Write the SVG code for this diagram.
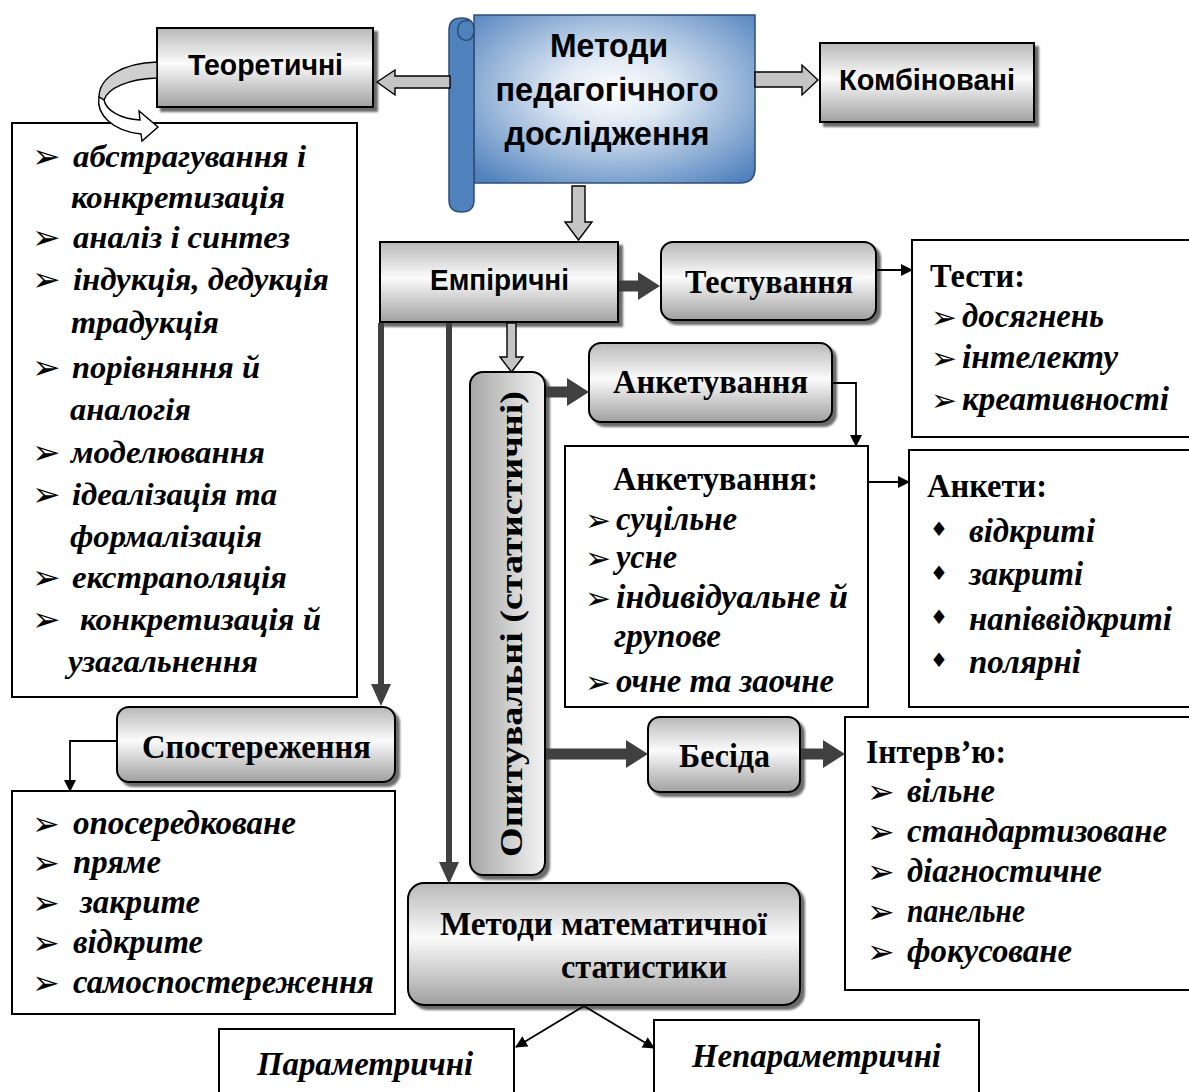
<svg xmlns="http://www.w3.org/2000/svg" width="1189" height="1092" viewBox="0 0 1189 1092">
<defs>
<style>
.box{fill:#fff;stroke:#000;stroke-width:2}
.gbox{fill:url(#gv);stroke:#000;stroke-width:2;filter:url(#sh)}
.sans{font-family:"Liberation Sans","DejaVu Sans",sans-serif;font-weight:bold;fill:#000}
.ser{font-family:"Liberation Serif","DejaVu Serif",serif;font-weight:bold;fill:#000}
.it{font-style:italic}
.bul{font-family:"DejaVu Sans",sans-serif;fill:#000}
.thin{stroke:#000;stroke-width:1.8;fill:none;marker-end:url(#ab)}
.thick{stroke:#404040;stroke-width:11;fill:none;marker-end:url(#ad)}
.vline{stroke:#404040;stroke-width:6;fill:none;marker-end:url(#av)}
.hollow{fill:#c4c4c4;stroke:#000;stroke-width:1.4}
</style>
<linearGradient id="gv" x1="0" y1="0" x2="0" y2="1">
<stop offset="0" stop-color="#b8b8b8"/>
<stop offset="0.45" stop-color="#fbfbfb"/>
<stop offset="1" stop-color="#a0a0a0"/>
</linearGradient>
<linearGradient id="gh" x1="0" y1="0" x2="1" y2="0">
<stop offset="0" stop-color="#a6a6a6"/>
<stop offset="1" stop-color="#f4f4f4"/>
</linearGradient>
<radialGradient id="gs" cx="0.5" cy="0.45" r="0.7">
<stop offset="0" stop-color="#ffffff"/>
<stop offset="0.3" stop-color="#dde7f3"/>
<stop offset="1" stop-color="#4f81bd"/>
</radialGradient>
<filter id="sh" x="-5%" y="-5%" width="115%" height="125%">
<feDropShadow dx="4" dy="4" stdDeviation="1.2" flood-color="#3a3a3a" flood-opacity="0.75"/>
</filter>
<marker id="ab" markerUnits="userSpaceOnUse" markerWidth="12" markerHeight="12" refX="11" refY="6" orient="auto">
<path d="M0,0 L12,6 L0,12 Z" fill="#000"/>
</marker>
<marker id="ad" markerUnits="userSpaceOnUse" markerWidth="22" markerHeight="28" refX="0" refY="14" orient="auto">
<path d="M0,0 L22,14 L0,28 Z" fill="#404040"/>
</marker>
<marker id="av" markerUnits="userSpaceOnUse" markerWidth="22" markerHeight="20" refX="0" refY="10" orient="auto">
<path d="M0,0 L22,10 L0,20 Z" fill="#404040"/>
</marker>
</defs>
<rect width="1189" height="1092" fill="#fff"/>

<g id="node-scroll">
<path d="M474,15 L755,15 L755,168 Q755,183 740,183 L474,183 Z" fill="url(#gs)" stroke="#2c4d75" stroke-width="1.5"/>
<path d="M449,30 Q449,18 461.5,18 Q474,18 474,30 L474,200 Q474,212 461.5,212 Q449,212 449,200 Z" fill="#4f81bd" stroke="#2c4d75" stroke-width="1.5"/>
<path d="M474,32 Q472,42 464,40 Q456,37 458,27 Q461,19 469,21" fill="none" stroke="#2c4d75" stroke-width="1.5"/>
<text class="sans" x="609" y="57" font-size="34" text-anchor="middle" textLength="118" lengthAdjust="spacingAndGlyphs">Методи</text>
<text class="sans" x="607" y="101" font-size="34" text-anchor="middle" textLength="223" lengthAdjust="spacingAndGlyphs">педагогічного</text>
<text class="sans" x="607" y="145" font-size="34" text-anchor="middle" textLength="205" lengthAdjust="spacingAndGlyphs">дослідження</text>
</g>

<g id="node-teoretychni">
<rect class="gbox" x="157" y="28" width="216" height="79"/>
<text class="sans" x="188" y="75" font-size="30" textLength="155" lengthAdjust="spacingAndGlyphs">Теоретичні</text>
</g>

<g id="node-kombinovani">
<rect class="gbox" x="820" y="43" width="214" height="79"/>
<text class="sans" x="839" y="90" font-size="30" textLength="176" lengthAdjust="spacingAndGlyphs">Комбіновані</text>
</g>

<g id="node-teor-list">
<rect class="box" x="12" y="123" width="345" height="574"/>
<g class="bul" font-size="34">
<text x="32" y="168">➢</text>
<text x="32" y="249">➢</text>
<text x="32" y="291">➢</text>
<text x="32" y="379">➢</text>
<text x="32" y="464">➢</text>
<text x="32" y="506">➢</text>
<text x="32" y="589">➢</text>
<text x="32" y="631">➢</text>
</g>
<g class="ser it" font-size="32">
<text x="73" y="167" textLength="233" lengthAdjust="spacingAndGlyphs">абстрагування і</text>
<text x="71" y="208" textLength="214" lengthAdjust="spacingAndGlyphs">конкретизація</text>
<text x="73" y="248" textLength="217" lengthAdjust="spacingAndGlyphs">аналіз і синтез</text>
<text x="73" y="290" textLength="256" lengthAdjust="spacingAndGlyphs">індукція, дедукція</text>
<text x="71" y="333" textLength="148" lengthAdjust="spacingAndGlyphs">традукція</text>
<text x="72" y="378" textLength="188" lengthAdjust="spacingAndGlyphs">порівняння й</text>
<text x="70" y="420" textLength="121" lengthAdjust="spacingAndGlyphs">аналогія</text>
<text x="71" y="463" textLength="194" lengthAdjust="spacingAndGlyphs">моделювання</text>
<text x="72" y="505" textLength="205" lengthAdjust="spacingAndGlyphs">ідеалізація та</text>
<text x="70" y="547" textLength="192" lengthAdjust="spacingAndGlyphs">формалізація</text>
<text x="72" y="588" textLength="215" lengthAdjust="spacingAndGlyphs">екстраполяція</text>
<text x="80" y="630" textLength="241" lengthAdjust="spacingAndGlyphs">конкретизація й</text>
<text x="68" y="672" textLength="190" lengthAdjust="spacingAndGlyphs">узагальнення</text>
</g>
</g>

<g id="node-empirychni">
<rect class="gbox" x="380" y="242" width="238" height="80"/>
<text class="sans" x="430" y="290" font-size="30" textLength="139" lengthAdjust="spacingAndGlyphs">Емпіричні</text>
</g>

<g id="node-testuvannia">
<rect class="gbox" x="661" y="242" width="215" height="78" rx="12"/>
<text class="ser" x="685" y="293" font-size="34" textLength="168" lengthAdjust="spacingAndGlyphs">Тестування</text>
</g>

<g id="node-testy">
<rect class="box" x="912" y="240" width="290" height="197"/>
<text class="ser" x="930" y="287" font-size="34" textLength="95" lengthAdjust="spacingAndGlyphs">Тести:</text>
<g class="bul" font-size="31">
<text x="931" y="328">➢</text>
<text x="931" y="369">➢</text>
<text x="931" y="411">➢</text>
</g>
<g class="ser it" font-size="34">
<text x="962" y="327" textLength="142" lengthAdjust="spacingAndGlyphs">досягнень</text>
<text x="962" y="368" textLength="156" lengthAdjust="spacingAndGlyphs">інтелекту</text>
<text x="962" y="410" textLength="207" lengthAdjust="spacingAndGlyphs">креативності</text>
</g>
</g>

<g id="node-opytuvalni">
<rect x="470" y="372" width="75" height="503" rx="13" fill="url(#gh)" stroke="#000" stroke-width="2" filter="url(#sh)"/>
<text class="ser" transform="translate(522,624) rotate(-90)" x="0" y="0" font-size="32" text-anchor="middle" textLength="466" lengthAdjust="spacingAndGlyphs">Опитувальні (статистичні)</text>
</g>

<g id="node-anketuvannia">
<rect class="gbox" x="589" y="343" width="243" height="79" rx="12"/>
<text class="ser" x="613" y="393" font-size="34" textLength="195" lengthAdjust="spacingAndGlyphs">Анкетування</text>
</g>

<g id="node-anketuvannia-list">
<rect class="box" x="565" y="446" width="303" height="261"/>
<text class="ser" x="613" y="490" font-size="33" textLength="205" lengthAdjust="spacingAndGlyphs">Анкетування:</text>
<g class="bul" font-size="31">
<text x="585" y="531">➢</text>
<text x="585" y="569">➢</text>
<text x="585" y="609">➢</text>
<text x="585" y="693">➢</text>
</g>
<g class="ser it" font-size="33">
<text x="616" y="530" textLength="121" lengthAdjust="spacingAndGlyphs">суцільне</text>
<text x="616" y="568" textLength="61" lengthAdjust="spacingAndGlyphs">усне</text>
<text x="616" y="608" textLength="232" lengthAdjust="spacingAndGlyphs">індивідуальне  й</text>
<text x="614" y="647" textLength="107" lengthAdjust="spacingAndGlyphs">групове</text>
<text x="616" y="692" textLength="218" lengthAdjust="spacingAndGlyphs">очне та заочне</text>
</g>
</g>

<g id="node-ankety">
<rect class="box" x="909" y="450" width="293" height="257"/>
<text class="ser" x="927" y="497" font-size="33" textLength="120" lengthAdjust="spacingAndGlyphs">Анкети:</text>
<g class="bul" font-size="20">
<text x="930" y="536">♦</text>
<text x="930" y="580">♦</text>
<text x="930" y="624">♦</text>
<text x="930" y="667">♦</text>
</g>
<g class="ser it" font-size="33">
<text x="969" y="542" textLength="126" lengthAdjust="spacingAndGlyphs">відкриті</text>
<text x="969" y="585" textLength="114" lengthAdjust="spacingAndGlyphs">закриті</text>
<text x="969" y="630" textLength="203" lengthAdjust="spacingAndGlyphs">напіввідкриті</text>
<text x="969" y="673" textLength="112" lengthAdjust="spacingAndGlyphs">полярні</text>
</g>
</g>

<g id="node-sposterezhennia">
<rect class="gbox" x="117" y="707" width="278" height="75" rx="12"/>
<text class="ser" x="142" y="758" font-size="34" textLength="229" lengthAdjust="spacingAndGlyphs">Спостереження</text>
</g>

<g id="node-sposterezhennia-list">
<rect class="box" x="12" y="791" width="383" height="223"/>
<g class="bul" font-size="33">
<text x="32" y="835">➢</text>
<text x="32" y="874">➢</text>
<text x="32" y="914">➢</text>
<text x="32" y="954">➢</text>
<text x="32" y="994">➢</text>
</g>
<g class="ser it" font-size="33">
<text x="73" y="834" textLength="223" lengthAdjust="spacingAndGlyphs">опосередковане</text>
<text x="73" y="873" textLength="88" lengthAdjust="spacingAndGlyphs">пряме</text>
<text x="80" y="913" textLength="120" lengthAdjust="spacingAndGlyphs">закрите</text>
<text x="73" y="953" textLength="130" lengthAdjust="spacingAndGlyphs">відкрите</text>
<text x="73" y="993" textLength="301" lengthAdjust="spacingAndGlyphs">самоспостереження</text>
</g>
</g>

<g id="node-besida">
<rect class="gbox" x="648" y="717" width="152" height="75" rx="12"/>
<text class="ser" x="679" y="767" font-size="34" textLength="91" lengthAdjust="spacingAndGlyphs">Бесіда</text>
</g>

<g id="node-interviu">
<rect class="box" x="845" y="717" width="357" height="273"/>
<text class="ser" x="866" y="763" font-size="33" textLength="140" lengthAdjust="spacingAndGlyphs">Інтерв’ю:</text>
<g class="bul" font-size="33">
<text x="867" y="803">➢</text>
<text x="867" y="843">➢</text>
<text x="867" y="883">➢</text>
<text x="867" y="923">➢</text>
<text x="867" y="963">➢</text>
</g>
<g class="ser it" font-size="33">
<text x="907" y="802" textLength="88" lengthAdjust="spacingAndGlyphs">вільне</text>
<text x="907" y="842" textLength="260" lengthAdjust="spacingAndGlyphs">стандартизоване</text>
<text x="907" y="882" textLength="195" lengthAdjust="spacingAndGlyphs">діагностичне</text>
<text x="907" y="922" textLength="118" lengthAdjust="spacingAndGlyphs">панельне</text>
<text x="907" y="962" textLength="165" lengthAdjust="spacingAndGlyphs">фокусоване</text>
</g>
</g>

<g id="node-math-stat">
<rect class="gbox" x="408" y="883" width="392" height="122" rx="16"/>
<text class="ser" x="440" y="935" font-size="33" textLength="327" lengthAdjust="spacingAndGlyphs">Методи математичної</text>
<text class="ser" x="561" y="978" font-size="33" textLength="166" lengthAdjust="spacingAndGlyphs">статистики</text>
</g>

<g id="node-parametrychni">
<rect class="box" x="219" y="1029" width="295" height="80"/>
<text class="ser it" x="257" y="1075" font-size="34" textLength="216" lengthAdjust="spacingAndGlyphs">Параметричні</text>
</g>

<g id="node-neparametrychni">
<rect class="box" x="654" y="1020" width="325" height="90"/>
<text class="ser it" x="692" y="1067" font-size="33" textLength="249" lengthAdjust="spacingAndGlyphs">Непараметричні</text>
</g>

<g id="connectors">
<polygon class="hollow" points="377,82 395,70 395,76 450,76 450,88 395,88 395,95"/>
<polygon class="hollow" points="755,72 802,72 802,65 818,80 802,95 802,87 755,87"/>
<polygon class="hollow" points="572,186 585,186 585,222 592,222 578.5,240 565,222 572,222"/>
<polygon class="hollow" points="507,323 516,323 516,357 523,357 511.5,372 500,357 507,357"/>
<path d="M157,62 C122,63 99,78 99,97 L104,100 C108,88 128,79 157,78 Z" fill="#cfcfcf" stroke="#000" stroke-width="1.4"/>
<path d="M99,97 C96,114 112,131 141,134 L142,141 L158,127 L139,111 L140,120 C120,119 106,110 104,100 Z" fill="#fff" stroke="#000" stroke-width="1.4"/>
<line class="thick" x1="619" y1="286" x2="638" y2="286"/>
<line class="thick" x1="546" y1="392" x2="567" y2="392"/>
<line class="thick" x1="546" y1="754" x2="626" y2="754"/>
<line class="thick" x1="801" y1="754" x2="823" y2="754"/>
<line class="vline" x1="381" y1="323" x2="381" y2="684"/>
<line class="vline" x1="449" y1="323" x2="449" y2="862"/>
<line class="thin" x1="877" y1="270" x2="912" y2="270"/>
<polyline class="thin" points="833,383 856,383 856,446"/>
<line class="thin" x1="869" y1="482" x2="909" y2="482"/>
<polyline class="thin" points="116,741 70,741 70,791"/>
<line class="thin" x1="584" y1="1006" x2="516" y2="1047"/>
<line class="thin" x1="584" y1="1006" x2="654" y2="1048"/>
</g>
</svg>
